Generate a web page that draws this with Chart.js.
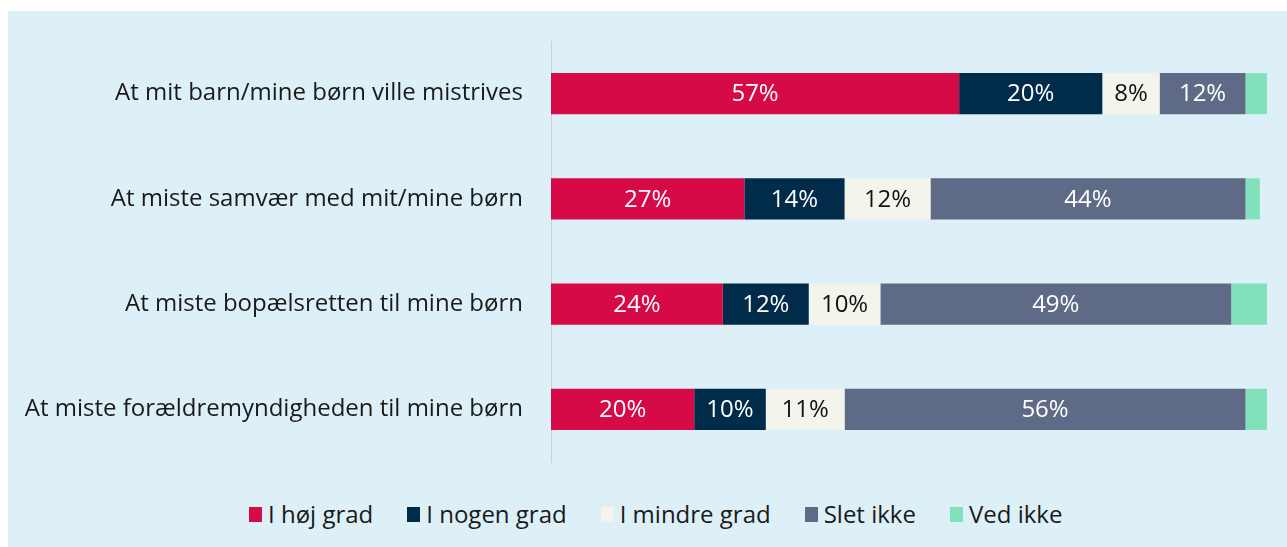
<!DOCTYPE html>
<html lang="da">
<head>
<meta charset="utf-8">
<script src="https://cdn.jsdelivr.net/npm/chart.js@4"></script>
<style>
  html, body { margin: 0; padding: 0; background: #ffffff; }
  #panel {
    position: absolute; left: 8px; top: 11px; width: 1279px; height: 536px;
    background: #ddf0f7;
  }
  #chartBox { position: absolute; left: 0; top: 0; width: 1279px; height: 480px; }
  #legend {
    position: absolute; top: 488px; left: 241px;
    display: flex; align-items: center;
    font-family: "Open Sans", sans-serif; font-size: 24px; line-height: 30px; color: #1a1a1a;
  }
  .item { display: flex; align-items: center; margin-right: 34px; }
  .swatch { width: 13px; height: 15px; margin-right: 6px; }
</style>
</head>
<body>
<div id="panel">
  <div id="chartBox"><canvas id="surveyChart"></canvas></div>
  <div id="legend"></div>
</div>
<script>
const categories = [
  "At mit barn/mine børn ville mistrives",
  "At miste samvær med mit/mine børn",
  "At miste bopælsretten til mine børn",
  "At miste forældremyndigheden til mine børn",
];
const seriesNames = ["I høj grad", "I nogen grad", "I mindre grad", "Slet ikke", "Ved ikke"];
const hojGrad = [57, 27, 24, 20];
const nogenGrad = [20, 14, 12, 10];
const mindreGrad = [8, 12, 10, 11];
const sletIkke = [12, 44, 49, 56];
const vedIkke = [3, 2, 5, 3];
const seriesColors = ["#d60a46", "#002b49", "#f3f4ec", "#5f6b86", "#80e1ba"];
const labelColors = ["#ffffff", "#ffffff", "#111111", "#ffffff", null];

const seriesValues = [hojGrad, nogenGrad, mindreGrad, sletIkke, vedIkke];

// draws the percent text in the middle of each segment (Ved ikke has none)
const barLabels = {
  id: "barLabels",
  afterDatasetsDraw(chart) {
    const ctx = chart.ctx;
    ctx.save();
    ctx.font = "24px 'Open Sans', sans-serif";
    ctx.textAlign = "center";
    ctx.textBaseline = "middle";
    chart.data.datasets.forEach((dataset, i) => {
      if (!labelColors[i]) return;
      const meta = chart.getDatasetMeta(i);
      meta.data.forEach((bar, j) => {
        ctx.fillStyle = labelColors[i];
        ctx.fillText(dataset.data[j] + "%", (bar.x + bar.base) / 2, bar.y + 1);
      });
    });
    ctx.restore();
  },
};

const surveyChart = new Chart(document.getElementById("surveyChart"), {
  type: "bar",
  data: {
    labels: categories,
    datasets: seriesNames.map((name, i) => ({
      label: name,
      data: seriesValues[i],
      backgroundColor: seriesColors[i],
      borderWidth: 0,
      categoryPercentage: 1,
      barPercentage: 0.39,
    })),
  },
  options: {
    indexAxis: "y",
    responsive: true,
    maintainAspectRatio: false,
    animation: false,
    layout: { padding: { top: 30, bottom: 29, right: 20, left: 0 } },
    plugins: {
      legend: { display: false },
      tooltip: { enabled: false },
    },
    scales: {
      x: { stacked: true, min: 0, max: 100, display: false },
      y: {
        stacked: true,
        grid: { display: false, drawTicks: false },
        border: { display: true, color: "#c9cfd3", width: 1 },
        ticks: {
          padding: 28,
          color: "#1a1a1a",
          font: { family: "'Open Sans', sans-serif", size: 24 },
        },
        afterFit: (scale) => {
          // fixed label column, and no extra room above/below for the tick text
          scale.width = 543;
          scale.paddingTop = 0;
          scale.paddingBottom = 0;
        },
      },
    },
  },
  plugins: [barLabels],
});

// legend built from the same series arrays
const legendEl = document.getElementById("legend");
seriesNames.forEach((name, i) => {
  const item = document.createElement("div");
  item.className = "item";
  const swatch = document.createElement("span");
  swatch.className = "swatch";
  swatch.style.background = seriesColors[i];
  const text = document.createElement("span");
  text.textContent = name;
  item.appendChild(swatch);
  item.appendChild(text);
  legendEl.appendChild(item);
});
</script>
</body>
</html>
